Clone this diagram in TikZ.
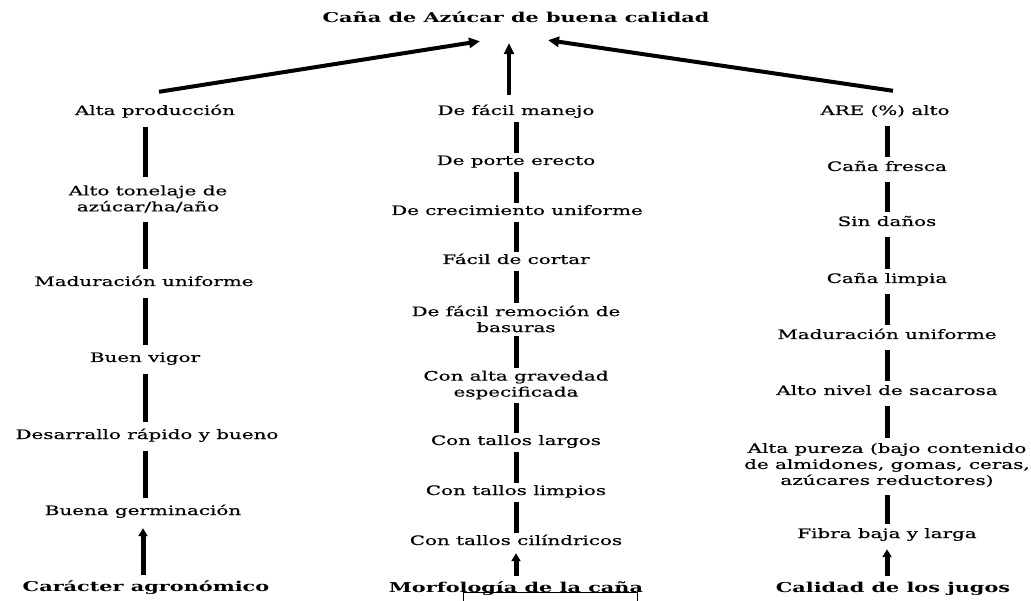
\documentclass[tikz,border=0pt]{standalone}
\usepackage{fontspec}
\setmainfont{DejaVu Serif}[FakeStretch=1.53]
\newfontfamily\bodyfont{DejaVu Serif}[FakeStretch=1.53, FakeBold=0.5]
\usetikzlibrary{arrows.meta}

\begin{document}
\begin{tikzpicture}[x=1pt,y=-1pt,
  txt/.style={font=\bodyfont\fontsize{13}{16}\selectfont, align=center, inner sep=0pt},
  one/.style={txt, text height=9pt, text depth=3pt},
  hdr/.style={one, font=\fontsize{13.6}{16}\selectfont\bfseries},
  bar/.style={line width=5pt},
  up/.style={line width=4pt, -{Triangle[length=11pt,width=10pt]}},
  upb/.style={line width=5pt, -{Triangle[length=8pt,width=9pt]}},
]
\useasboundingbox (0,0) rectangle (1031,601);

% top goal
\node[hdr] (goal) at (516,20) {Caña de Azúcar de buena calidad};

% left column: agronomic character
\node[one] (a1) at (155,112) {Alta producción};
\node[txt] (a2) at (148,199) {Alto tonelaje de\\azúcar/ha/año};
\node[one] (a3) at (144,283) {Maduración uniforme};
\node[one] (a4) at (145,359) {Buen vigor};
\node[one] (a5) at (147,436) {Desarrallo rápido y bueno};
\node[one] (a6) at (143,512) {Buena germinación};
\node[hdr] (a7) at (146,588) {Carácter agronómico};

% middle column: cane morphology
\node[one] (m1) at (516,112) {De fácil manejo};
\node[one] (m2) at (516,162) {De porte erecto};
\node[one] (m3) at (517,212) {De crecimiento uniforme};
\node[one] (m4) at (516,261) {Fácil de cortar};
\node[txt] (m5) at (516,319) {De fácil remoción de\\basuras};
\node[txt] (m6) at (516,385) {Con alta gravedad\\especificada};
\node[one] (m7) at (516,442) {Con tallos largos};
\node[one] (m8) at (516,492) {Con tallos limpios};
\node[one] (m9) at (516,542) {Con tallos cilíndricos};
\node[hdr] (m10) at (516,589) {Morfología de la caña};

% right column: juice quality
\node[one] (r1) at (885,112) {ARE (\%) alto};
\node[one] (r2) at (887,168) {Caña fresca};
\node[one] (r3) at (887,223) {Sin daños};
\node[one] (r4) at (887,280) {Caña limpia};
\node[one] (r5) at (887,336) {Maduración uniforme};
\node[one] (r6) at (887,392) {Alto nivel de sacarosa};
\node[txt] (r7) at (887,465) {Alta pureza (bajo contenido\\de almidones, gomas, ceras,\\azúcares reductores)};
\node[one] (r8) at (887,535) {Fibra baja y larga};
\node[hdr] (r9) at (893,589) {Calidad de los jugos};

% links to the goal
\draw[up] ([xshift=4pt,yshift=14pt]a1.north) -- ([xshift=-36pt,yshift=-15pt]goal.south);
\draw[up] ([xshift=-7pt,yshift=11pt]m1.north) -- ([xshift=-7pt,yshift=-17pt]goal.south);
\draw[up] ([xshift=8pt,yshift=15pt]r1.north) -- ([xshift=32pt,yshift=-14pt]goal.south);

% chains of bars
\begin{scope}[shorten <=9pt, shorten >=8pt]
  \draw[bar] (a1.south -| a4) -- (a2.north -| a4);
  \draw[bar] (a2.south -| a4) -- (a3.north -| a4);
  \draw[bar] (a3.south -| a4) -- (a4.north);
  \draw[bar] (a4.south) -- (a5.north -| a4);
  \draw[bar] (a5.south -| a4) -- (a6.north -| a4);
\end{scope}
\begin{scope}[shorten <=4pt, shorten >=3pt]
  \draw[bar] (m1) -- (m2);
  \draw[bar] (m2) -- (m3.north -| m2);
  \draw[bar] (m3.south -| m2) -- (m4);
  \draw[bar] (m4) -- (m5);
  \draw[bar] (m5) -- (m6);
  \draw[bar] (m6) -- (m7);
  \draw[bar] (m7) -- (m8);
  \draw[bar] (m8) -- (m9);
\end{scope}
\begin{scope}[shorten <=8pt, shorten >=5pt]
  \draw[bar] (r1.south -| r2) -- (r2);
  \draw[bar] (r2) -- (r3);
  \draw[bar] (r3) -- (r4);
  \draw[bar] (r4) -- (r5);
  \draw[bar] (r5) -- (r6);
  \draw[bar] (r6) -- (r7);
  \draw[bar] (r7) -- (r8);
\end{scope}

% category arrows
\draw[upb, shorten <=7pt, shorten >=10pt] (a7.north -| a6) -- (a6.south);
\draw[upb, shorten <=7pt, shorten >=5pt] (m10) -- (m9);
\draw[upb, shorten <=7pt, shorten >=8pt] (r9.north -| r8) -- (r8.south);

% thin frame edge under the middle label
\draw[line width=0.8pt] (463,601) -- (463,592) -- (637,592) -- (637,601);
\end{tikzpicture}
\end{document}
